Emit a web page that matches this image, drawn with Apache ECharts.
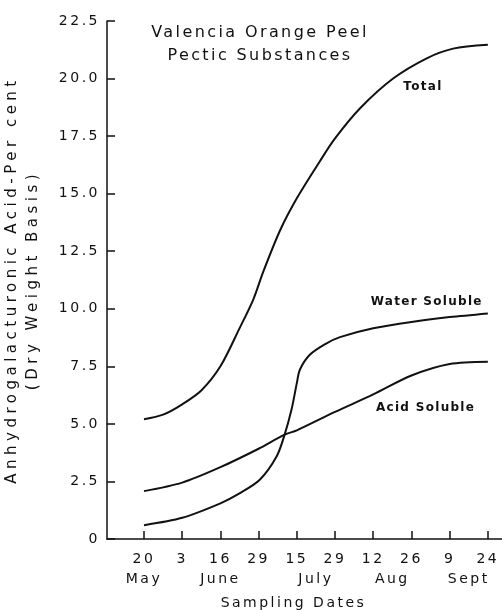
<!DOCTYPE html>
<html>
<head>
<meta charset="utf-8">
<script src="https://cdn.jsdelivr.net/npm/echarts@6/dist/echarts.min.js"></script>
<style>
  html, body { margin: 0; padding: 0; background: #fff; }
  #chart { width: 502px; height: 610px; }
</style>
</head>
<body>
<div id="chart"></div>
<script>
// Wide tracking of the lettering: canvas letter spacing chosen by font size
(function () {
  const proto = window.CanvasRenderingContext2D && CanvasRenderingContext2D.prototype;
  if (!proto || !('letterSpacing' in proto)) return;
  const fontDesc = Object.getOwnPropertyDescriptor(proto, 'font');
  if (!fontDesc || !fontDesc.set) return;
  const trackFor = size => (size === 16 ? 2.4 : size === 15 ? 4.5 : size === 12 ? 1.3 : 2.5);
  Object.defineProperty(proto, 'font', {
    configurable: true,
    enumerable: fontDesc.enumerable,
    get() { return fontDesc.get.call(this); },
    set(v) {
      fontDesc.set.call(this, v);
      const m = /(\d+(?:\.\d+)?)px/.exec(v);
      this.letterSpacing = (m ? trackFor(+m[1]) : 0) + 'px';
    }
  });
})();

// Sampling dates (index positions on the x axis)
const dayLabels = ['20', '3', '16', '29', '15', '29', '12', '26', '9', '24'];
const monthNames = ['May', 'June', 'July', 'Aug', 'Sept'];
const monthPos = [0, 2, 4.5, 6.5, 8.5];

// Curves: [sampling-date index, per cent anhydrogalacturonic acid]
const totalPts = [
  [0, 5.2], [0.5, 5.4], [1, 5.85], [1.5, 6.45], [2, 7.5], [2.5, 9.15],
  [2.86, 10.4], [3.12, 11.6], [3.56, 13.4], [4, 14.8], [4.6, 16.4],
  [5, 17.4], [5.65, 18.7], [6.52, 20.0], [7.4, 20.88], [8.09, 21.3], [9, 21.47]
];
const waterPts = [
  [0, 0.6], [1, 0.92], [2, 1.55], [2.5, 1.98], [3.03, 2.57], [3.47, 3.58],
  [3.68, 4.53], [3.86, 5.61], [4, 6.77], [4.08, 7.35], [4.34, 8.0],
  [4.78, 8.5], [5.13, 8.77], [6, 9.15], [7, 9.43], [8, 9.64], [9, 9.8]
];
const acidPts = [
  [0, 2.08], [1, 2.45], [2, 3.12], [3, 3.92], [3.68, 4.53], [4, 4.72],
  [5, 5.52], [6, 6.28], [7, 7.1], [8, 7.6], [9, 7.7]
];

const seriesNames = ['Total', 'Water Soluble', 'Acid Soluble'];
// where each curve's name sits, in axis units
const nameAnchors = [[7.30, 19.64], [7.40, 10.31], [7.37, 5.70]];

const FONT = 'DejaVu Sans';
const INK = '#111';
const dayIdx = dayLabels.map((_, i) => i);
const X_MIN = -0.968, X_MAX = 9.37;

const chart = echarts.init(document.getElementById('chart'), null, { renderer: 'canvas' });

function curve(name, pts, anchor) {
  return {
    name: name,
    type: 'line',
    data: pts,
    smooth: 0.3,
    showSymbol: false,
    symbol: 'none',
    lineStyle: { color: INK, width: 2 },
    silent: true,
    markPoint: {
      symbol: 'circle',
      symbolSize: 0,
      silent: true,
      data: [{ coord: anchor, value: name }],
      label: {
        show: true,
        position: 'inside',
        formatter: name,
        fontFamily: FONT,
        fontSize: 12,
        fontWeight: 'bold',
        color: INK
      }
    }
  };
}

chart.setOption({
  animation: false,
  backgroundColor: '#fff',
  title: {
    text: 'Valencia Orange Peel\nPectic Substances',
    left: 255,
    top: 16,
    textAlign: 'center',
    textStyle: {
      fontFamily: FONT, fontSize: 16, fontWeight: 'normal',
      color: INK, lineHeight: 23
    }
  },
  grid: {
    left: 107, right: 0, top: 21, bottom: 71,
    containLabel: false, outerBoundsMode: 'none'
  },
  xAxis: [
    {
      type: 'value',
      min: X_MIN,
      max: X_MAX,
      splitLine: { show: false },
      axisLine: { show: true, onZero: false, lineStyle: { color: INK, width: 1.5 } },
      axisTick: {
        show: true, inside: true, length: 8,
        customValues: dayIdx,
        lineStyle: { color: INK, width: 1.5 }
      },
      axisLabel: {
        show: true,
        customValues: dayIdx,
        formatter: v => dayLabels[Math.round(v)],
        margin: 12,
        fontFamily: FONT, fontSize: 14, color: INK
      }
    },
    {
      type: 'value',
      position: 'bottom',
      offset: 20,
      min: X_MIN,
      max: X_MAX,
      splitLine: { show: false },
      axisLine: { show: false, onZero: false },
      axisTick: { show: false },
      axisLabel: {
        show: true,
        customValues: monthPos,
        formatter: v => monthNames[monthPos.indexOf(v)],
        margin: 12,
        fontFamily: FONT, fontSize: 14, color: INK
      },
      name: 'Sampling Dates',
      nameLocation: 'middle',
      nameGap: 36,
      nameTextStyle: {
        fontFamily: FONT, fontSize: 14, color: INK,
        padding: [0, 22, 0, 0]
      }
    }
  ],
  yAxis: {
    type: 'value',
    min: 0,
    max: 22.5,
    interval: 2.5,
    splitLine: { show: false },
    axisLine: { show: true, onZero: false, lineStyle: { color: INK, width: 1.5 } },
    axisTick: { show: true, inside: true, length: 8, lineStyle: { color: INK, width: 1.5 } },
    axisLabel: {
      margin: 7,
      formatter: v => (v === 0 ? '0' : v.toFixed(1)),
      fontFamily: FONT, fontSize: 14, color: INK
    },
    name: 'Anhydrogalacturonic Acid-Per cent\n(Dry Weight Basis)',
    nameLocation: 'middle',
    nameGap: 64,
    nameRotate: 90,
    nameTextStyle: {
      fontFamily: FONT, fontSize: 15, color: INK, lineHeight: 20.5, align: 'center'
    }
  },
  series: [
    curve(seriesNames[0], totalPts, nameAnchors[0]),
    curve(seriesNames[1], waterPts, nameAnchors[1]),
    curve(seriesNames[2], acidPts, nameAnchors[2])
  ]
});
</script>
</body>
</html>
